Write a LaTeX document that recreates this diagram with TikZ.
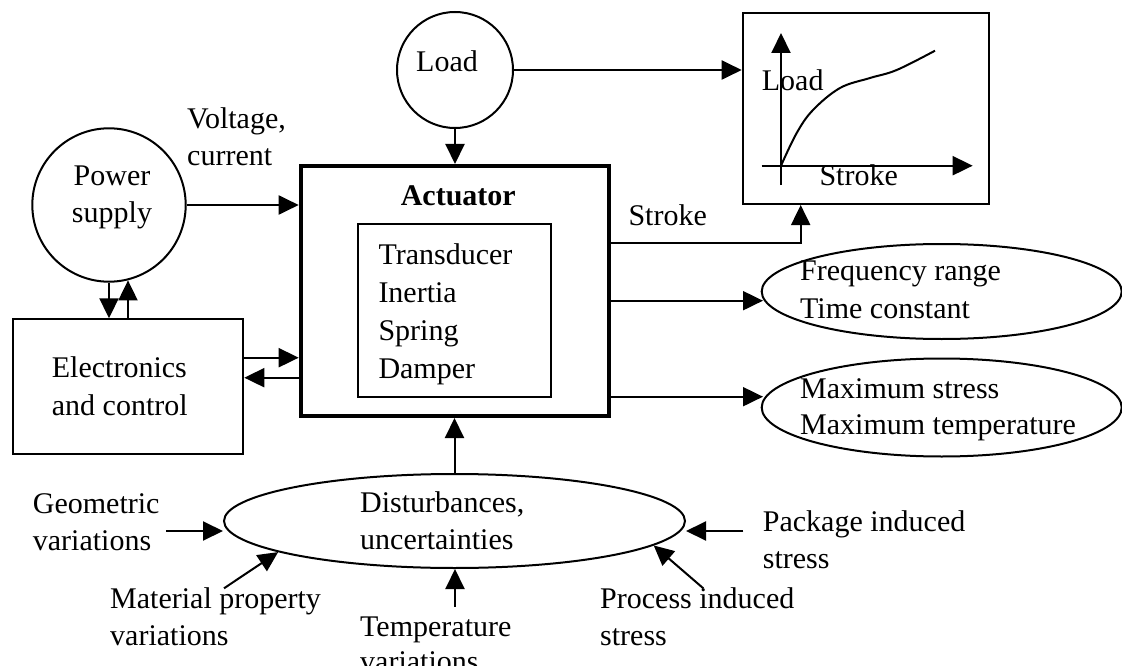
\documentclass[tikz,border=0pt]{standalone}
\usepackage{fontspec}
\setmainfont{Liberation Serif}
\usetikzlibrary{arrows.meta,shapes.geometric}
\newcommand\lbl{\fontsize{30}{37}\selectfont}
\newcommand\lblwide{\fontsize{30}{38}\selectfont}
\tikzset{
  ln/.style={line width=2pt},
  arr/.style={ln, -{Triangle[length=20pt,width=19pt]}},
  % multi-line texts are placed by the baseline of their last line
  txt/.style={inner sep=0pt, align=left, anchor=base west, font=\lbl},
  ctxt/.style={inner sep=0pt, align=center, anchor=base, font=\lbl},
  boxed/.style={draw, ln, inner sep=0pt},
  oval/.style={ellipse, draw, ln, inner sep=0pt},
  ring/.style={circle, draw, ln, inner sep=0pt},
}
\begin{document}
\begin{tikzpicture}[x=1pt,y=-1pt]
\useasboundingbox (0,0) rectangle (1122,666);

% main blocks
\node[draw, line width=4pt, inner sep=0pt, minimum width=308.6pt, minimum height=250pt] (act) at (455,291) {};
\node[boxed, minimum width=192.4pt, minimum height=172.7pt] (inner) at (454.5,310.35) {};
\node[font=\lbl\bfseries, inner sep=0pt, anchor=base] (actt) at (458.3,205) {Actuator};
\node[txt, font=\lblwide] (innert) at (378.3,378.3) {Transducer\\Inertia\\Spring\\Damper};

\node[ring, minimum size=116pt] (load) at (455,70) {};
\node[txt] (loadt) at (416,71.7) {Load};

\node[ring, minimum size=153.4pt] (ps) at (109,205) {};
\node[ctxt] (pst) at (112,222.3) {Power\\supply};
\node[txt] (vc) at (187,165) {Voltage,\\current};

\node[boxed, minimum width=230.6pt, minimum height=135pt] (ec) at (128,386.8) {};
\node[txt, font=\lblwide] (ect) at (51.7,415) {Electronics\\and control};

% load-stroke plot
\node[boxed, minimum width=246.3pt, minimum height=191.3pt] (graph) at (865.85,108.35) {};
\coordinate (ybot) at (781,185);
\coordinate (ytop) at (781,33);
\coordinate (xl) at (761.7,165.7);
\coordinate (xr) at (972.7,165.7);
\draw[arr] (ybot) -- (ytop);
\draw[arr] (xl) -- (xr);
\draw[ln] plot[smooth, tension=0.6] coordinates {(781,165.7) (796.7,133) (813,110) (840,88) (870,78) (896.7,70) (935,50.7)};
\node[txt] (gload) at (761.7,90.7) {Load};
\node[txt] (gstroke) at (819.3,185.7) {Stroke};

% outputs
\node[oval, minimum width=360pt, minimum height=95pt] (fr) at (941.7,291.5) {};
\node[txt, font=\lblwide] (frt) at (800,318.3) {Frequency range\\Time constant};
\node[oval, minimum width=360pt, minimum height=98pt] (ms) at (941.7,407.5) {};
\node[txt, font=\fontsize{30}{36}\selectfont] (mst) at (800,434) {Maximum stress\\Maximum temperature};
\node[txt] (strokel) at (628.3,225) {Stroke};

% disturbances
\node[oval, minimum width=461pt, minimum height=94pt] (dist) at (454.5,521) {};
\node[txt] (distt) at (360,549.3) {Disturbances,\\uncertainties};
\node[txt] (geo) at (32.7,550) {Geometric\\variations};
\node[txt] (pkg) at (762.7,568.3) {Package induced\\stress};
\node[txt] (mat) at (110,645) {Material property\\variations};
\node[txt, font=\fontsize{30}{35}\selectfont] (tmp) at (360,671.5) {Temperature\\variations};
\node[txt] (proc) at (600,645) {Process induced\\stress};

% connector ends
\coordinate (e1) at (243.3,357.7);
\coordinate (e2) at (243.3,377.7);
\coordinate (sk) at (800.7,242.7);
\coordinate (o1) at (763,300.7);
\coordinate (o2) at (763,396.7);
\coordinate (gt) at (166,531);
\coordinate (pt) at (743.3,531);
\coordinate (mt) at (224,588.3);
\coordinate (tt) at (455,606.7);
\coordinate (prt) at (703.3,588.3);

% connectors
\draw[arr] (load.south) -- (load.south |- act.north);
\draw[arr] (load.east) -- (load.east -| graph.west);
\draw[arr] (ps.east) -- (ps.east -| act.west);
\draw[arr] (ps.south) -- (ps.south |- ec.north);
\draw[arr] (ec.north) -- (ec.north |- ps.-76);
\draw[arr] (ec.east |- e1) -- (e1 -| act.west);
\draw[arr] (e2 -| act.west) -- (ec.east |- e2);
\draw[arr] (act.east |- sk) -- (sk) -- (sk |- graph.south);
\draw[arr] (act.east |- o1) -- (o1);
\draw[arr] (act.east |- o2) -- (o2);
\draw[arr] (dist.north) -- (dist.north |- act.south);
\draw[arr] (gt) -- (gt -| dist.west);
\draw[arr] (pt) -- (pt -| dist.east);
\draw[arr] (mt) -- (dist.190);
\draw[arr] (tt) -- (tt |- dist.south);
\draw[arr] (prt) -- (dist.-7.5);
\end{tikzpicture}
\end{document}
